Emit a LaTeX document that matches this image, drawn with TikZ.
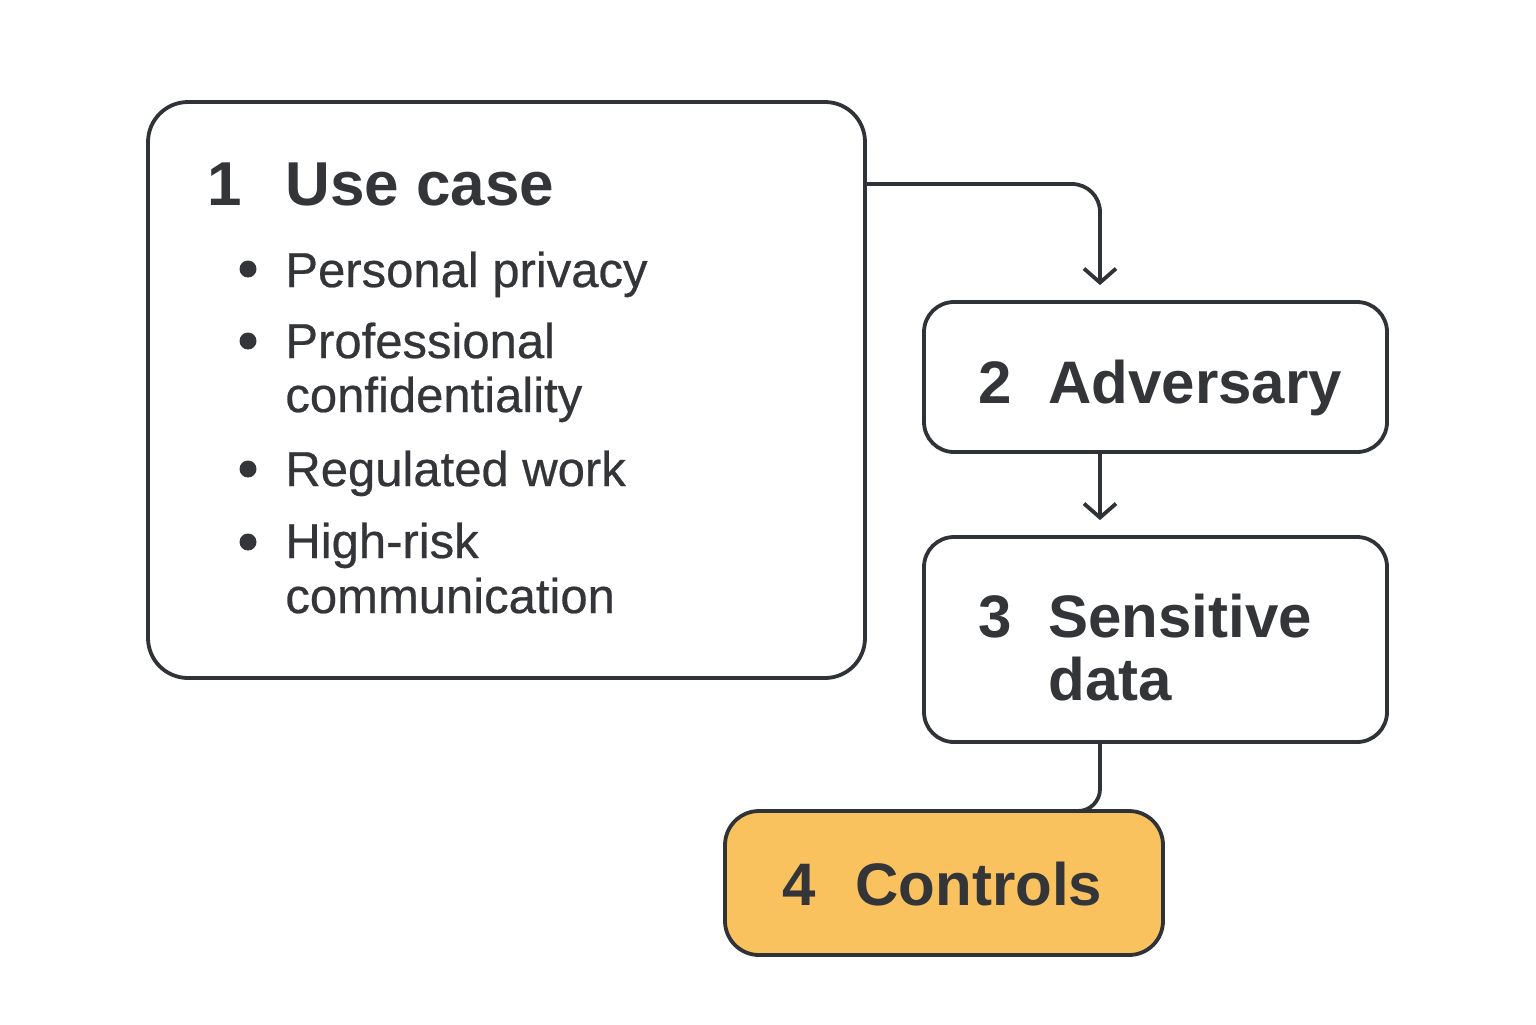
\documentclass[tikz,border=0pt]{standalone}
\usepackage{fontspec}
\setmainfont{Liberation Sans}
\newfontfamily\bodyfont[FakeBold=0.5]{Liberation Sans}
\usetikzlibrary{arrows.meta}
\definecolor{ink}{HTML}{2F3236}
\definecolor{txt}{HTML}{333538}
\definecolor{gold}{HTML}{F9C25E}
\begin{document}
\begin{tikzpicture}[x=0.5pt,y=-0.5pt,
  box/.style={draw=ink,line width=1.9pt,fill=white,rounded corners=#1,inner sep=0pt},
  box/.default=16pt,
  head/.style={anchor=base west,inner sep=0pt,text=txt,font=\fontsize{30}{36}\selectfont\bfseries},
  item/.style={anchor=base west,inner sep=0pt,text=txt,font=\bodyfont\fontsize{24.5}{28}\selectfont},
  dot/.style={circle,fill=txt,inner sep=0pt,minimum size=8.5pt},
  flow/.style={draw=ink,line width=1.9pt,line cap=round,line join=round,
    -{Straight Barb[length=7pt,width=16pt,line width=1.9pt]}},
  link/.style={draw=ink,line width=1.9pt,line cap=round}]
\useasboundingbox (0,0) rectangle (1536,1024);

% boxes
\node[box=20pt,minimum width=358.5pt,minimum height=288pt] (b1) at (506.5,390) {};
\node[box=15pt,minimum width=231.5pt,minimum height=75pt] (b2) at (1155.5,377) {};
\node[box=15pt,minimum width=231.5pt,minimum height=102.5pt] (b3) at (1155.5,639.5) {};

% connectors
\coordinate (c1) at (865,184);
\draw[flow,rounded corners=14pt,shorten >=7.5pt] (c1) -| ([xshift=-27.75pt]b2.north);
\draw[flow,shorten >=7.5pt] ([xshift=-27.75pt]b2.south) -- ([xshift=-27.75pt]b3.north);
\draw[link,rounded corners=11pt] ([xshift=-27.75pt]b3.south) |- (1060,811);

\node[box=17pt,fill=gold,minimum width=219pt,minimum height=72pt] (b4) at (944,883) {};

% box 1 text
\node[head,font=\fontsize{31}{36}\selectfont\bfseries] (n1) at (207,205) {1};
\node[head,font=\fontsize{31}{36}\selectfont\bfseries] (t1) at (285,205) {Use case};
\node[dot] (d1) at (248,269) {};
\node[item] (i1) at (285,287) {Personal privacy};
\node[dot] (d2) at (248,341) {};
\node[item] (i2) at (285,358) {Professional};
\node[item] (i2b) at (285,412) {confidentiality};
\node[dot] (d3) at (248,469) {};
\node[item] (i3) at (285,486) {Regulated work};
\node[dot] (d4) at (248,542) {};
\node[item] (i4) at (285,558) {High-risk};
\node[item] (i4b) at (285,613) {communication};

% box 2 text
\node[head] (n2) at (978,403) {2};
\node[head] (t2) at (1048,403) {Adversary};

% box 3 text
\node[head] (n3) at (978,637) {3};
\node[head] (t3) at (1048,637) {Sensitive};
\node[head] (t3b) at (1048,700) {data};

% box 4 text
\node[head] (n4) at (782,905) {4};
\node[head] (t4) at (855,905) {Controls};
\end{tikzpicture}
\end{document}
